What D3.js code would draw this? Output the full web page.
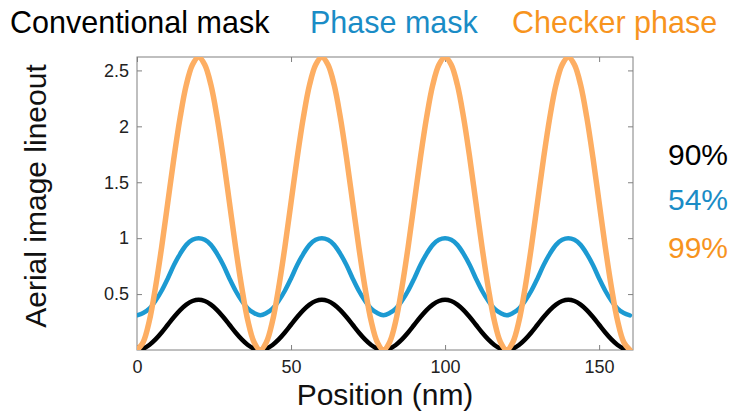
<!DOCTYPE html>
<html>
<head>
<meta charset="utf-8">
<script src="https://cdn.jsdelivr.net/npm/d3@7"></script>
<style>
  html, body { margin: 0; padding: 0; background: #fff; }
  svg { display: block; font-family: "Liberation Sans", Arial, sans-serif; }
</style>
</head>
<body>
<svg id="chart" width="731" height="412"></svg>
<script>
// Positions along the lineout (nm)
const positions = [
  0, 2, 4, 6, 8, 10, 12, 14, 16, 18, 20, 22, 24, 26, 28, 30, 32, 34, 36, 38,
  40, 42, 44, 46, 48, 50, 52, 54, 56, 58, 60, 62, 64, 66, 68, 70, 72, 74, 76, 78,
  80, 82, 84, 86, 88, 90, 92, 94, 96, 98, 100, 102, 104, 106, 108, 110, 112, 114, 116, 118,
  120, 122, 124, 126, 128, 130, 132, 134, 136, 138, 140, 142, 144, 146, 148, 150, 152, 154, 156, 158,
  160
];

// Aerial image intensity, conventional mask
const conventional = [
  0, 0.012, 0.045, 0.095, 0.157, 0.226, 0.295, 0.357, 0.406, 0.438, 0.45, 0.438, 0.406, 0.357, 0.295, 0.226, 0.157, 0.095, 0.045, 0.012,
  0, 0.012, 0.045, 0.095, 0.157, 0.226, 0.295, 0.357, 0.406, 0.438, 0.45, 0.438, 0.406, 0.357, 0.295, 0.226, 0.157, 0.095, 0.045, 0.012,
  0, 0.012, 0.045, 0.095, 0.157, 0.226, 0.295, 0.357, 0.406, 0.438, 0.45, 0.438, 0.406, 0.357, 0.295, 0.226, 0.157, 0.095, 0.045, 0.012,
  0, 0.012, 0.045, 0.095, 0.157, 0.226, 0.295, 0.357, 0.406, 0.438, 0.45, 0.438, 0.406, 0.357, 0.295, 0.226, 0.157, 0.095, 0.045, 0.012,
  0
];

// Aerial image intensity, phase mask
const phaseMask = [
  0.31, 0.33, 0.37, 0.44, 0.53, 0.64, 0.76, 0.86, 0.94, 0.985, 1.0, 0.985, 0.94, 0.86, 0.76, 0.64, 0.53, 0.44, 0.37, 0.33,
  0.31, 0.33, 0.37, 0.44, 0.53, 0.64, 0.76, 0.86, 0.94, 0.985, 1.0, 0.985, 0.94, 0.86, 0.76, 0.64, 0.53, 0.44, 0.37, 0.33,
  0.31, 0.33, 0.37, 0.44, 0.53, 0.64, 0.76, 0.86, 0.94, 0.985, 1.0, 0.985, 0.94, 0.86, 0.76, 0.64, 0.53, 0.44, 0.37, 0.33,
  0.31, 0.33, 0.37, 0.44, 0.53, 0.64, 0.76, 0.86, 0.94, 0.985, 1.0, 0.985, 0.94, 0.86, 0.76, 0.64, 0.53, 0.44, 0.37, 0.33,
  0.31
];

// Aerial image intensity, checker phase mask
const checkerPhase = [
  0, 0.07, 0.26, 0.56, 0.92, 1.32, 1.72, 2.08, 2.37, 2.55, 2.62, 2.55, 2.37, 2.08, 1.72, 1.32, 0.92, 0.56, 0.26, 0.07,
  0, 0.07, 0.26, 0.56, 0.92, 1.32, 1.72, 2.08, 2.37, 2.55, 2.62, 2.55, 2.37, 2.08, 1.72, 1.32, 0.92, 0.56, 0.26, 0.07,
  0, 0.07, 0.26, 0.56, 0.92, 1.32, 1.72, 2.08, 2.37, 2.55, 2.62, 2.55, 2.37, 2.08, 1.72, 1.32, 0.92, 0.56, 0.26, 0.07,
  0, 0.07, 0.26, 0.56, 0.92, 1.32, 1.72, 2.08, 2.37, 2.55, 2.62, 2.55, 2.37, 2.08, 1.72, 1.32, 0.92, 0.56, 0.26, 0.07,
  0
];

const seriesNames = ["Conventional mask", "Phase mask", "Checker phase"];
const contrastLabels = ["90%", "54%", "99%"];
const xTicks = [0, 50, 100, 150];
const yTicks = [0.5, 1, 1.5, 2, 2.5];
const yTickLabels = ["0.5", "1", "1.5", "2", "2.5"];

const textColors = ["#000000", "#1a8cc6", "#f7941e"];
const lineColors = ["#000000", "#1c9ad2", "#fdae63"];
const lineWidths = [4.5, 4.5, 5.5];

const svg = d3.select("#chart");
const box = { left: 137, right: 633, top: 57, bottom: 350 };

const x = d3.scaleLinear().domain([0, 161]).range([box.left, box.right]);
const y = d3.scaleLinear().domain([0, 2.62]).range([box.bottom, box.top]);

svg.append("defs").append("clipPath").attr("id", "plot-clip")
  .append("rect")
  .attr("x", box.left).attr("y", box.top)
  .attr("width", box.right - box.left).attr("height", box.bottom - box.top);

const axisColor = "#808080";
const tickLen = 5;

// Axes with inward ticks on all four sides
const bottomAxis = svg.append("g").attr("transform", `translate(0,${box.bottom})`)
  .call(d3.axisBottom(x).tickValues(xTicks).tickSizeInner(-tickLen).tickSizeOuter(0).tickPadding(10));
const topAxis = svg.append("g").attr("transform", `translate(0,${box.top})`)
  .call(d3.axisTop(x).tickValues(xTicks).tickSizeInner(-tickLen).tickSizeOuter(0).tickFormat(""));
const leftAxis = svg.append("g").attr("transform", `translate(${box.left},0)`)
  .call(d3.axisLeft(y).tickValues(yTicks).tickSizeInner(-tickLen).tickSizeOuter(0).tickPadding(8)
    .tickFormat((d, i) => yTickLabels[i]));
const rightAxis = svg.append("g").attr("transform", `translate(${box.right},0)`)
  .call(d3.axisRight(y).tickValues(yTicks).tickSizeInner(-tickLen).tickSizeOuter(0).tickFormat(""));

[bottomAxis, topAxis, leftAxis, rightAxis].forEach(g => {
  g.select(".domain").remove();
  g.selectAll(".tick line").attr("stroke", axisColor);
  g.selectAll(".tick text").attr("fill", "#222").style("font-size", "18px")
    .style("font-family", '"Liberation Sans", Arial, sans-serif');
});

// Plot frame
svg.append("rect")
  .attr("x", box.left).attr("y", box.top)
  .attr("width", box.right - box.left).attr("height", box.bottom - box.top)
  .attr("fill", "none").attr("stroke", axisColor).attr("stroke-width", 1);

// Curves
const series = [conventional, phaseMask, checkerPhase];
const line = d3.line()
  .x(d => x(d[0]))
  .y(d => y(d[1]))
  .curve(d3.curveCatmullRom.alpha(0.5));

const plot = svg.append("g").attr("clip-path", "url(#plot-clip)");
series.forEach((vals, i) => {
  plot.append("path")
    .datum(positions.map((p, k) => [p, vals[k]]))
    .attr("fill", "none")
    .attr("stroke", lineColors[i])
    .attr("stroke-width", lineWidths[i])
    .attr("stroke-linejoin", "round")
    .attr("stroke-linecap", "round")
    .attr("d", line);
});

// Legend titles across the top
const titleX = [10, 310, 512];
seriesNames.forEach((name, i) => {
  svg.append("text")
    .attr("x", titleX[i]).attr("y", 33)
    .attr("fill", textColors[i])
    .style("font-size", "30.5px")
    .text(name);
});

// Contrast figures at right
const contrastY = [165, 210, 258];
contrastLabels.forEach((t, i) => {
  svg.append("text")
    .attr("x", 668).attr("y", contrastY[i])
    .attr("fill", textColors[i])
    .style("font-size", "30px")
    .text(t);
});

// Axis titles
svg.append("text")
  .attr("x", (box.left + box.right) / 2).attr("y", 405)
  .attr("text-anchor", "middle")
  .attr("fill", "#111")
  .style("font-size", "30px")
  .text("Position (nm)");

svg.append("text")
  .attr("transform", "translate(46,196) rotate(-90)")
  .attr("text-anchor", "middle")
  .attr("fill", "#111")
  .style("font-size", "30px")
  .text("Aerial image lineout");
</script>
</body>
</html>
